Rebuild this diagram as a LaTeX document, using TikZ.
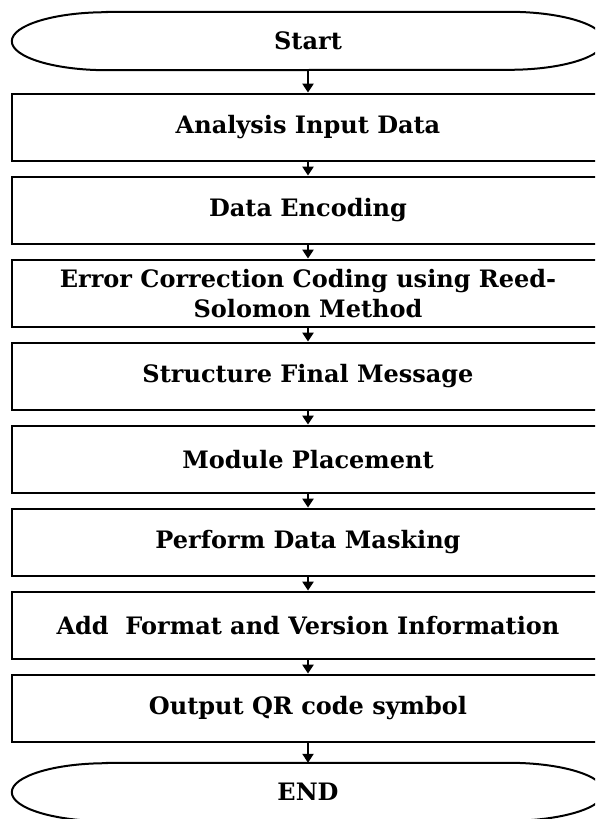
\documentclass[tikz,border=0pt]{standalone}
\usepackage{fontspec}
\setmainfont{DejaVu Serif}
\usetikzlibrary{arrows.meta}
\begin{document}
\begin{tikzpicture}[x=1pt,y=-1pt,
  txt/.style={font=\bfseries\fontsize{24}{30}\selectfont, align=center, inner sep=0pt},
  stepbox/.style={txt, draw, line width=2.8pt, minimum width=592pt, minimum height=67pt},
  term/.style={txt, minimum width=592pt, minimum height=58pt},
  termline/.style={line width=2pt},
  flow/.style={-{Triangle[width=11pt,length=9pt]}, line width=2.4pt}]
\useasboundingbox (0,0) rectangle (595,819);
\fill[white] (0,0) rectangle (595,819);
\clip (0,0) rectangle (595,819);
\node[term] (start) at (308,41) {Start};
\node[stepbox] (a1) at (308,127.5) {Analysis Input Data};
\node[stepbox] (a2) at (308,210.5) {Data Encoding};
\node[stepbox] (a3) at (308,293.5) {Error Correction Coding using Reed-\\Solomon Method};
\node[stepbox] (a4) at (308,376.5) {Structure Final Message};
\node[stepbox] (a5) at (308,459.5) {Module Placement};
\node[stepbox] (a6) at (308,542.5) {Perform Data Masking};
\node[stepbox] (a7) at (308,625.5) {Add\ \ Format and Version Information};
\node[stepbox] (a8) at (308,708.5) {Output QR code symbol};
\node[term] (end) at (308,792) {END};
\foreach \n in {start,end}{
  \draw[termline] ([xshift=95pt]\n.north west) -- ([xshift=-95pt]\n.north east)
    arc[start angle=90,end angle=-90,x radius=95pt,y radius=29pt]
    -- ([xshift=95pt]\n.south west)
    arc[start angle=270,end angle=90,x radius=95pt,y radius=29pt] -- cycle;
}
\draw[flow] (start.south) -- (a1.north);
\draw[flow] (a1.south) -- (a2.north);
\draw[flow] (a2.south) -- (a3.north);
\draw[flow] (a3.south) -- (a4.north);
\draw[flow] (a4.south) -- (a5.north);
\draw[flow] (a5.south) -- (a6.north);
\draw[flow] (a6.south) -- (a7.north);
\draw[flow] (a7.south) -- (a8.north);
\draw[flow] (a8.south) -- (end.north);
\end{tikzpicture}
\end{document}
